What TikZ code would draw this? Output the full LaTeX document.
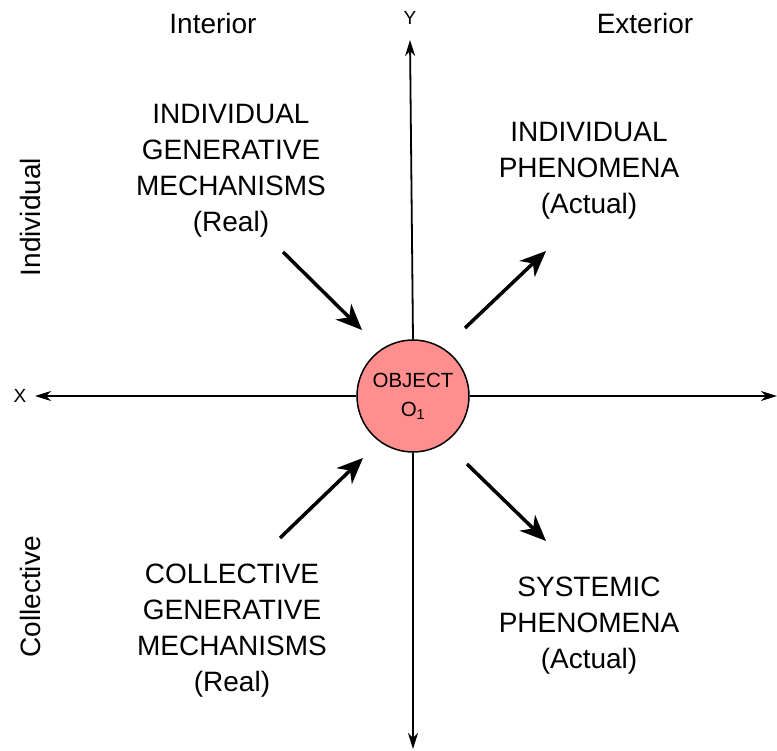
\documentclass[tikz,border=0pt]{standalone}
\usepackage{fontspec}
\setmainfont{Liberation Sans}
\usetikzlibrary{arrows.meta}
\definecolor{objfill}{RGB}{255,142,142}
\begin{document}
\begin{tikzpicture}[x=1pt,y=-1pt,
  axis/.style={line width=1.8pt,-{Stealth[length=16pt,width=10pt,inset=5pt]}},
  flow/.style={line width=3.5pt,-{Stealth[length=26pt,width=22pt,inset=8pt]}},
  lbl/.style={font=\fontsize{28}{36}\selectfont,align=center,inner sep=0pt},
  side/.style={font=\fontsize{28}{30}\selectfont,inner sep=0pt},
  axlab/.style={font=\fontsize{19}{21}\selectfont,inner sep=0pt}]
\useasboundingbox (0,0) rectangle (777,751);
% central object
\node[circle,draw,line width=1.5pt,fill=objfill,minimum size=112pt,inner sep=0pt,
      font=\fontsize{20.5}{29}\selectfont,align=center] (obj) at (413,396)
      {OBJECT\\O\textsubscript{1}};
% axes
\coordinate (xl) at (35,396);
\coordinate (xr) at (777,396);
\coordinate (yt) at (410,40);
\coordinate (yb) at (413,749);
\draw[axis] (obj.west) -- (xl);
\draw[axis] (obj.east) -- (xr);
\draw[axis] (obj.north) -- (yt);
\draw[axis] (obj.south) -- (yb);
\node[axlab] (xlab) at (20,396) {X};
\node[axlab] (ylab) at (410,18) {Y};
% quadrant headings
\node[side] (interior) at (213,23) {Interior};
\node[side] (exterior) at (645,23) {Exterior};
\node[side,rotate=90] (indiv) at (30,217) {Individual};
\node[side,rotate=90] (coll) at (30,597) {Collective};
% quadrant texts
\node[lbl] (igm) at (231,171) {INDIVIDUAL\\GENERATIVE\\MECHANISMS\\(Real)};
\node[lbl] (iph) at (589,171) {INDIVIDUAL\\PHENOMENA\\(Actual)};
\node[lbl] (cgm) at (232,631) {COLLECTIVE\\GENERATIVE\\MECHANISMS\\(Real)};
\node[lbl] (sph) at (589,626) {SYSTEMIC\\PHENOMENA\\(Actual)};
% flows
\coordinate (a1) at (283,252); \coordinate (b1) at (362,330);
\coordinate (a2) at (465,328); \coordinate (b2) at (546,251);
\coordinate (a3) at (280,538); \coordinate (b3) at (363,458);
\coordinate (a4) at (467,464); \coordinate (b4) at (546,541);
\draw[flow] (a1) -- (b1);
\draw[flow] (a2) -- (b2);
\draw[flow] (a3) -- (b3);
\draw[flow] (a4) -- (b4);
\end{tikzpicture}
\end{document}
